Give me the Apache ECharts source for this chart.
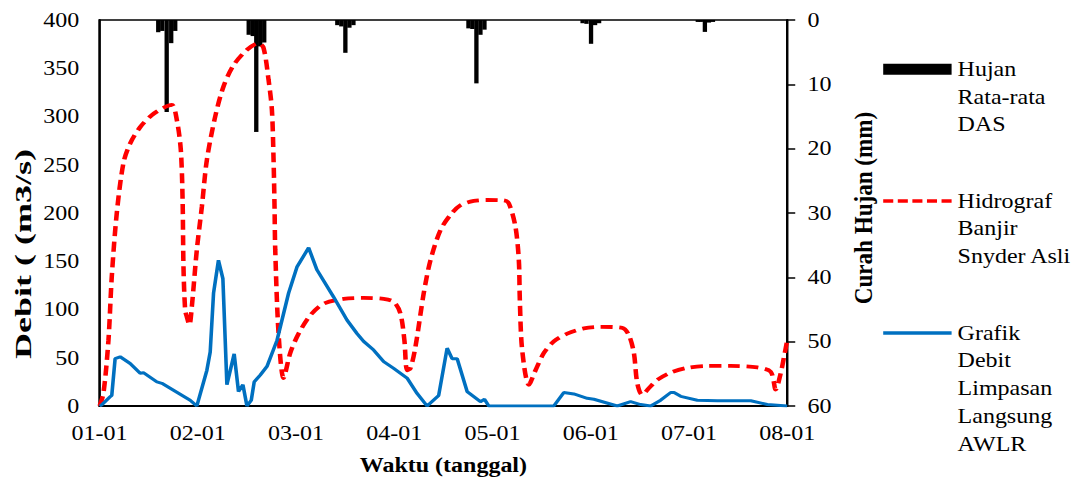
<!DOCTYPE html>
<html><head><meta charset="utf-8">
<script src="https://cdn.jsdelivr.net/npm/echarts@6/dist/echarts.min.js"></script>
<style>
html,body{margin:0;padding:0;background:#fff;overflow:hidden;width:1081px;height:483px}
#main{width:901px;height:483px;transform:scaleX(1.2);transform-origin:0 0}
</style>
</head><body><div id="main"></div>
<script>
// ---- data ----
const xTickLabels = ['01-01','02-01','03-01','04-01','05-01','06-01','07-01','08-01'];

const rainX = [0.597,0.638,0.683,0.729,0.770, 1.518,1.559,1.595,1.635,1.676, 2.420,2.461,2.502,2.543,2.584, 3.755,3.795,3.836,3.877,3.918, 4.917,4.957,5.003,5.044,5.085, 6.090,6.120,6.162,6.203,6.244];
const rainY = [1.9,1.7,14.3,3.6,1.7, 2.3,2.5,17.4,4.1,3.5, 0.8,1.0,5.1,1.2,0.8, 1.3,1.4,9.85,2.3,1.5, 0.5,0.6,3.7,0.8,0.5, 0.3,0.3,1.85,0.4,0.3];

const snyderX = [0,0.039,0.09,0.124,0.175,0.243,0.311,0.413,0.532,0.65,0.736,0.787,0.827,0.845,0.854,0.871,0.888,0.914,0.939,0.99,1.041,1.092,1.177,1.261,1.363,1.499,1.618,1.669,1.72,1.754,1.771,1.781,1.788,1.822,1.873,1.941,2.026,2.145,2.28,2.484,2.688,2.892,2.994,3.062,3.103,3.13,3.164,3.215,3.3,3.368,3.469,3.571,3.673,3.809,3.945,4.115,4.166,4.233,4.268,4.278,4.302,4.37,4.438,4.523,4.624,4.761,4.93,5.1,5.321,5.388,5.439,5.474,5.524,5.592,5.677,5.813,5.983,6.187,6.425,6.697,6.832,6.883,6.934,6.968,7.0];
const snyderY = [0,13,68,134,200,252,272,289,301.5,309,312,296,265,213,144,99.5,92.5,84,103,162,206.5,255,300,331,353,369,376,371,338,307,255,206,162,75,29,55,75,94,106,111,112,111,108,96,68,37,39,61,117,151,182,198,208,212.5,213.5,213,210,186,151,110,58,22,37,55,67,75,80.5,82,81,73.5,55,23.5,11.5,18.5,27,34.5,39.5,41.5,41.5,40,35.5,17,34,51,68];

const awlrX = [0,0.02,0.107,0.124,0.158,0.209,0.311,0.413,0.446,0.583,0.634,0.922,0.99,1.092,1.126,1.16,1.21,1.255,1.296,1.37,1.414,1.459,1.5,1.544,1.574,1.635,1.704,1.806,1.924,2.009,2.128,2.213,2.382,2.519,2.621,2.688,2.79,2.892,2.994,3.13,3.232,3.334,3.452,3.538,3.589,3.64,3.742,3.877,3.918,3.962,4.624,4.726,4.828,4.964,5.032,5.27,5.406,5.508,5.61,5.712,5.814,5.848,5.916,6.085,6.289,6.629,6.798,7.0];
const awlrY = [0,1,9.6,11,49,51,44,34,34.5,25,23.5,6,0,37,56,117,151,132,22,54,15,22,0,6,25,32,41,68,117,144,164,141,113,89,75,67,58,46,39,29,13,0,11,60,49,49,15,4.5,7,0,0,14,12.5,8,7,0,4.5,1.5,0,6,14,14,10,6,5.5,5.5,1.5,0];

const seriesNames = ['Hujan Rata-rata DAS','Hidrograf Banjir Snyder Asli','Grafik Debit Limpasan Langsung AWLR'];
const legendLines = [['Hujan','Rata-rata','DAS'],['Hidrograf','Banjir','Snyder Asli'],['Grafik','Debit','Limpasan','Langsung','AWLR']];
const leftTitle = 'Debit ( (m3/s)';
const rightTitle = 'Curah Hujan (mm)';
const xTitle = 'Waktu (tanggal)';

// ---- chart ----
const FONT = 'Liberation Serif';
const LH = 27.7;
const zip = (xs, ys) => xs.map((x, i) => [x, ys[i]]);
const iconCenters = [69, 201, 333];
const dashIcon = 'path://M0,0h10v4h-10z M14.5,0h10v4h-10z M29,0h10v4h-10z M43.5,0h10v4h-10z M58,0h10v4h-10z';
const legendIcons = ['rect', dashIcon, 'rect'];
const legendIconH = [11, 3.8, 3.4];

const chart = echarts.init(document.getElementById('main'), null, {renderer: 'svg'});
chart.setOption({
  animation: false,
  backgroundColor: '#fff',
  textStyle: {fontFamily: FONT},
  grid: {left: 83, right: 245, top: 20, bottom: 77, show: true, borderColor: '#000', borderWidth: 1.5},
  legend: seriesNames.map((name, i) => {
    const n = legendLines[i].length;
    return {
      data: [{name: name, icon: legendIcons[i]}],
      left: 736, top: Math.max(0, iconCenters[i] - (2 * n - 1) * LH / 2), padding: 0,
      itemWidth: 57, itemHeight: legendIconH[i],
      selectedMode: false,
      formatter: () => '\n'.repeat(n - 1) + legendLines[i].join('\n'),
      textStyle: {fontFamily: FONT, fontSize: 20, color: '#000', lineHeight: LH}
    };
  }),
  xAxis: {
    type: 'value', min: 0, max: 7, interval: 1,
    axisLine: {lineStyle: {color: '#000', width: 2}},
    axisTick: {show: false}, splitLine: {show: false},
    axisLabel: {formatter: v => xTickLabels[Math.round(v)], fontFamily: FONT, fontSize: 20, color: '#000', margin: 17},
    name: xTitle, nameLocation: 'middle', nameGap: 49,
    nameTextStyle: {fontFamily: FONT, fontSize: 20, fontWeight: 'bold', color: '#000'}
  },
  yAxis: [{
    type: 'value', min: 0, max: 400, interval: 50,
    axisLine: {show: true, lineStyle: {color: '#000', width: 2}},
    axisTick: {show: false}, splitLine: {show: false},
    axisLabel: {fontFamily: FONT, fontSize: 20, color: '#000', margin: 17}
  }, {
    type: 'value', min: 0, max: 60, interval: 10, inverse: true, position: 'right',
    axisLine: {show: true, lineStyle: {color: '#000', width: 2}},
    axisTick: {show: true, inside: false, length: 6.7, lineStyle: {color: '#000', width: 1.5}},
    splitLine: {show: false},
    axisLabel: {fontFamily: FONT, fontSize: 20, color: '#000', margin: 17}
  }],
  graphic: [{
    type: 'text', x: 19.2, y: 254, rotation: Math.PI / 2, scaleX: 1.8, scaleY: 1,
    style: {text: leftTitle, fontFamily: FONT, fontSize: 20, fontWeight: 'bold', fill: '#000', align: 'center', verticalAlign: 'middle'}
  }, {
    type: 'text', x: 719.5, y: 208, rotation: Math.PI / 2, scaleX: 1.1, scaleY: 1,
    style: {text: rightTitle, fontFamily: FONT, fontSize: 21, fontWeight: 'bold', fill: '#000', align: 'center', verticalAlign: 'middle'}
  }],
  series: [{
    name: seriesNames[0], type: 'bar', yAxisIndex: 1, xAxisIndex: 0,
    data: zip(rainX, rainY), barWidth: 3.6,
    itemStyle: {color: '#000'}, z: 1
  }, {
    name: seriesNames[1], type: 'line', yAxisIndex: 0,
    data: zip(snyderX, snyderY), symbol: 'none', smooth: 0.3,
    lineStyle: {color: '#FF0000', width: 3.8, type: [10, 5.5]},
    itemStyle: {color: '#FF0000'}, z: 3
  }, {
    name: seriesNames[2], type: 'line', yAxisIndex: 0,
    data: zip(awlrX, awlrY), symbol: 'none',
    lineStyle: {color: '#0070C0', width: 3},
    itemStyle: {color: '#0070C0'}, z: 4
  }]
});
</script>
</body></html>
